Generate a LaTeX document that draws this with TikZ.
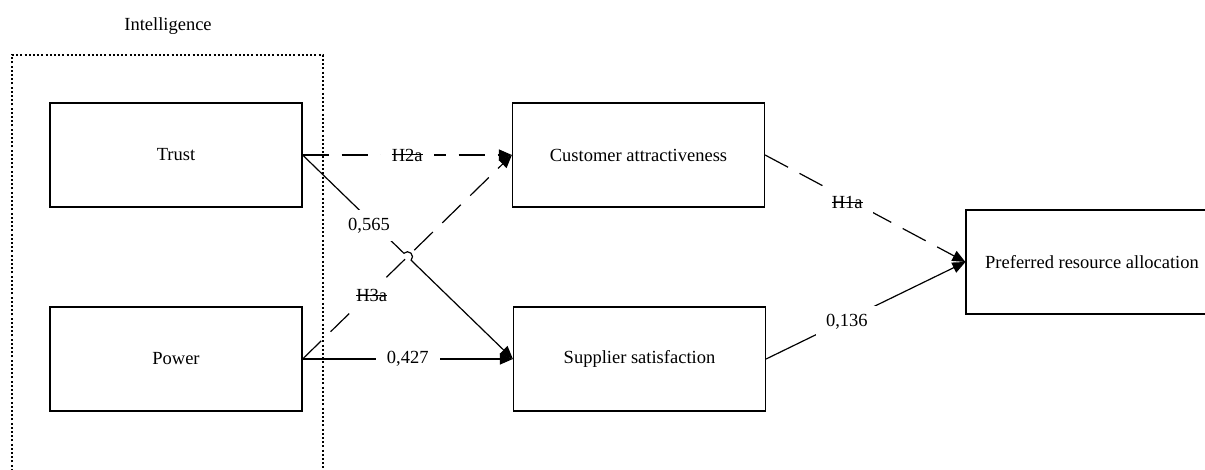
\documentclass[tikz,border=0pt]{standalone}
\usepackage{fontspec}
\setmainfont{Liberation Serif}
\usetikzlibrary{arrows.meta,positioning,calc,intersections}
\newcommand{\struck}[1]{\setbox0\hbox{#1}\rlap{\rule[0.7ex]{\wd0}{1pt}}\box0}

\begin{document}
\begin{tikzpicture}[x=1pt, y=1pt, line width=1.2pt,
    every node/.style={font=\fontsize{18.5}{22}\selectfont},
    construct/.style={draw, minimum width=252pt, minimum height=104pt, inner sep=0pt},
    path/.style={-{Triangle[length=13pt,width=11pt]}},
    rejected/.style={path, dash pattern=on 26pt off 13pt},
    lbl/.style={fill=white, inner xsep=11pt, inner ysep=2pt},
    slantlbl/.style={fill=white, inner xsep=10pt, inner ysep=8pt}]
    \clip (0,0) rectangle (1205,470);

    % Intelligence group
    \node (intel) at (168,444) {Intelligence};
    \draw[line width=1.4pt, dash pattern=on 2pt off 2.2pt] (12,-5) |- (323,415) -- (323,-5);

    % Constructs
    \node[construct] (trust) at (176,315) {Trust};
    \node[construct] (power) at (176,111) {Power};
    \node[construct] (cust) at (638.5,315) {Customer attractiveness};
    \node[construct] (supp) at (639.5,111) {Supplier satisfaction};
    \node[construct] (pref) at (1092,208) {Preferred resource allocation};

    % Crossing point for the hop
    \path[name path=tp] (trust.east) -- (supp.west);
    \path[name path=pc] (power.east) -- (cust.west);
    \path[name intersections={of=tp and pc, by=X}];

    % Paths
    \draw[rejected] (trust.east) -- (cust.west);
    \draw[rejected] (power.east) -- (cust.west);
    \draw[path] (trust.east) -- ($(X)!5pt!(trust.east)$)
        arc[start angle=136, end angle=-44, radius=5pt] -- (supp.west);
    \draw[path] (power.east) -- (supp.west);
    \draw[rejected] (cust.east) -- (pref.west);
    \draw[path] (supp.east) -- (pref.west);

    % Labels
    \path (trust.east) -- node[lbl, pos=0.50] (h2a) {\struck{H2a}} (cust.west);
    \path (trust.east) -- node[slantlbl, pos=0.33, xshift=-3pt, yshift=-3pt] (b565) {0,565} (supp.west);
    \path (power.east) -- node[slantlbl, pos=0.33, yshift=-4pt] (h3a) {\struck{H3a}} (cust.west);
    \path (power.east) -- node[lbl, pos=0.50] (b427) {0,427} (supp.west);
    \path (cust.east) -- node[slantlbl, pos=0.41, yshift=-4pt] (h1a) {\struck{H1a}} (pref.west);
    \path (supp.east) -- node[slantlbl, pos=0.405, yshift=-2pt] (b136) {0,136} (pref.west);
\end{tikzpicture}
\end{document}
